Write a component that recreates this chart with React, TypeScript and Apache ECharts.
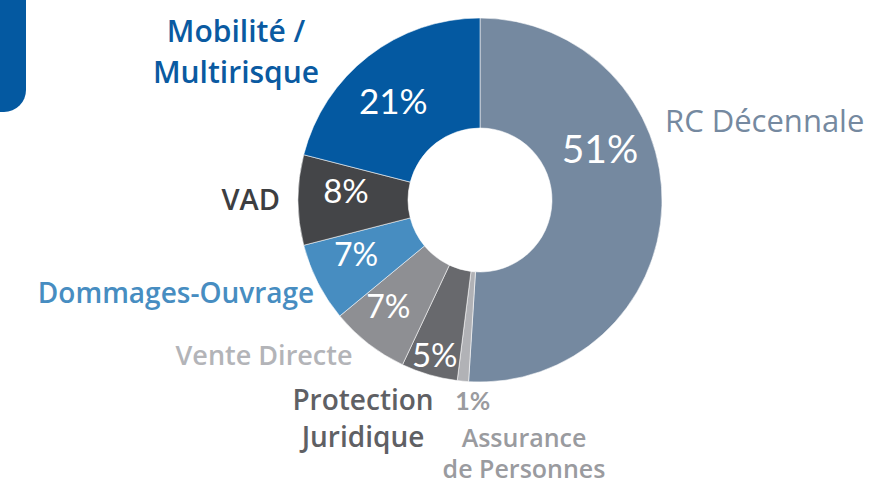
import React, { useEffect, useRef } from "react";
import * as echarts from "echarts";

const categories = [
  "RC Décennale",
  "Assurance\nde Personnes",
  "Protection\nJuridique",
  "Vente Directe",
  "Dommages-Ouvrage",
  "VAD",
  "Mobilité /\nMultirisque",
];
const values = [51, 1, 5, 7, 7, 8, 21];

const sliceColors = ["#7589a0", "#b1b2b6", "#68696d", "#8e8f93", "#478dc1", "#444548", "#0459a1"];
const nameColors = ["#7589a0", "#9a9b9f", "#5f6064", "#b3b4b8", "#478dc1", "#3d3e41", "#0a5aa1"];

// layout for the category names: [x, y, align, fontSize, lineHeight, weight]
const nameLayout: [number, number, string, number, number, string][] = [
  [665, 120, "left", 31, 36, "500"],
  [524, 452, "center", 25, 31, "600"],
  [363, 417, "center", 28, 37, "600"],
  [264, 354, "center", 27, 32, "600"],
  [176, 292, "center", 28, 34, "600"],
  [280, 198, "right", 29, 35, "600"],
  [236, 51, "center", 30, 41, "600"],
];
// inside % label offsets and sizes
const pctOffsets: [number, number][] = [
  [-10, -56],
  [5, 71],
  [-9, 29],
  [-12, 3],
  [-8, -6],
  [-4, -10],
  [-7, 3],
];
const pctSizes = [39, 25, 33, 32, 32, 33, 35];

const NAME_FONT = "'Open Sans', Lato, sans-serif";
const PCT_FONT = "Lato, 'Open Sans', sans-serif";

export default function App() {
  const ref = useRef<HTMLDivElement>(null);
  useEffect(() => {
    const chart = echarts.init(ref.current!, null, { renderer: "svg" });
    const data = categories.map((name, i) => ({
      name,
      value: values[i],
      itemStyle: { color: sliceColors[i] },
      label: {
        show: true,
        position: "inside",
        formatter: `${values[i]}%`,
        color: i === 1 ? "#9a9b9f" : "#ffffff",
        fontSize: pctSizes[i],
        fontWeight: i === 1 ? "bold" : "normal",
        fontFamily: PCT_FONT,
        offset: pctOffsets[i],
      },
    }));
    const names = categories.map((name, i) => {
      const [x, y, align, fs, lh, fw] = nameLayout[i];
      return {
        type: "text",
        x,
        y,
        style: {
          text: name,
          fill: nameColors[i],
          font: `${fw} ${fs}px ${NAME_FONT}`,
          lineHeight: lh,
          align,
          verticalAlign: "middle",
        },
      };
    });
    chart.setOption({
      animation: false,
      backgroundColor: "#ffffff",
      graphic: [
        {
          type: "rect",
          shape: { x: -30, y: -30, width: 56, height: 142, r: 22 },
          style: { fill: "#0459a1" },
        },
        ...names,
      ],
      series: [
        {
          type: "pie",
          center: [480, 200],
          radius: [72, 182],
          startAngle: 90,
          clockwise: true,
          avoidLabelOverlap: false,
          labelLine: { show: false },
          itemStyle: { borderColor: "rgba(255,255,255,0.55)", borderWidth: 1 },
          emphasis: { disabled: true },
          data,
        },
      ],
    });
    return () => chart.dispose();
  }, []);
  return (
    <div
      ref={ref}
      style={{ position: "fixed", left: 0, top: 0, width: 890, height: 484 }}
    />
  );
}
